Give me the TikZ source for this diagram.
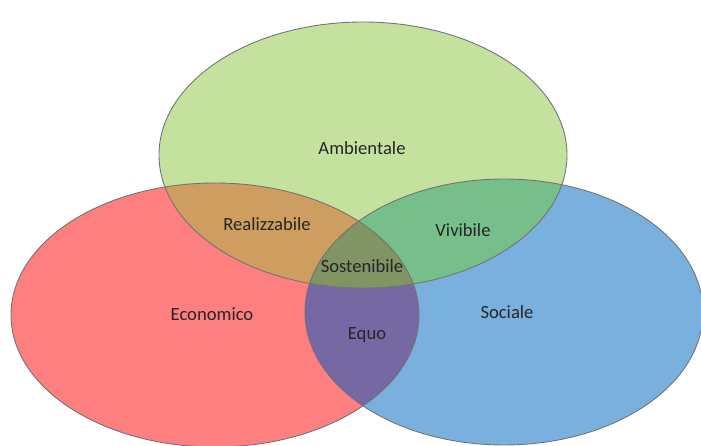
\documentclass[tikz,border=0pt]{standalone}
\usepackage{fontspec}
\setmainfont{Carlito}
\definecolor{ambcol}{RGB}{196,225,158}
\definecolor{ecocol}{RGB}{253,127,127}
\definecolor{soccol}{RGB}{122,176,222}
\definecolor{realcol}{RGB}{205,158,95}
\definecolor{vivcol}{RGB}{118,190,138}
\definecolor{equocol}{RGB}{118,104,163}
\definecolor{sostcol}{RGB}{128,148,100}
\tikzset{
    rim/.style={draw=black!55,line width=0.5pt},
    lbl/.style={font=\fontsize{10.6}{12}\selectfont,text=black!85}
}

\begin{document}
\begin{tikzpicture}[x=0.02cm,y=-0.02cm]
    \useasboundingbox (0,0) rectangle (701,446);
    \coordinate (A) at (363,155);
    \coordinate (E) at (215,315);
    \coordinate (S) at (504,312);
    \def\ellA{(A) ellipse [x radius=204,y radius=133]}
    \def\ellE{(E) ellipse [x radius=204,y radius=132]}
    \def\ellS{(S) ellipse [x radius=199,y radius=133]}
    % single sets
    \fill[ecocol] \ellE;
    \fill[soccol] \ellS;
    \fill[ambcol] \ellA;
    % overlaps
    \begin{scope}
        \clip \ellE;
        \fill[realcol] \ellA;
        \fill[equocol] \ellS;
    \end{scope}
    \begin{scope}
        \clip \ellS;
        \fill[vivcol] \ellA;
    \end{scope}
    \begin{scope}
        \clip \ellE;
        \clip \ellS;
        \fill[sostcol] \ellA;
    \end{scope}
    \draw[rim] \ellE;
    \draw[rim] \ellS;
    \draw[rim] \ellA;
    \foreach \n/\x/\y/\t in {amb/362/148/Ambientale,real/267/224/Realizzabile,
            viv/463/230/Vivibile,sost/362/266/Sostenibile,eco/212/314/Economico,
            equo/367/335/Equo,soc/507/312/Sociale} {
        \node[lbl] (\n) at (\x,\y) {\t};
    }
\end{tikzpicture}
\end{document}
